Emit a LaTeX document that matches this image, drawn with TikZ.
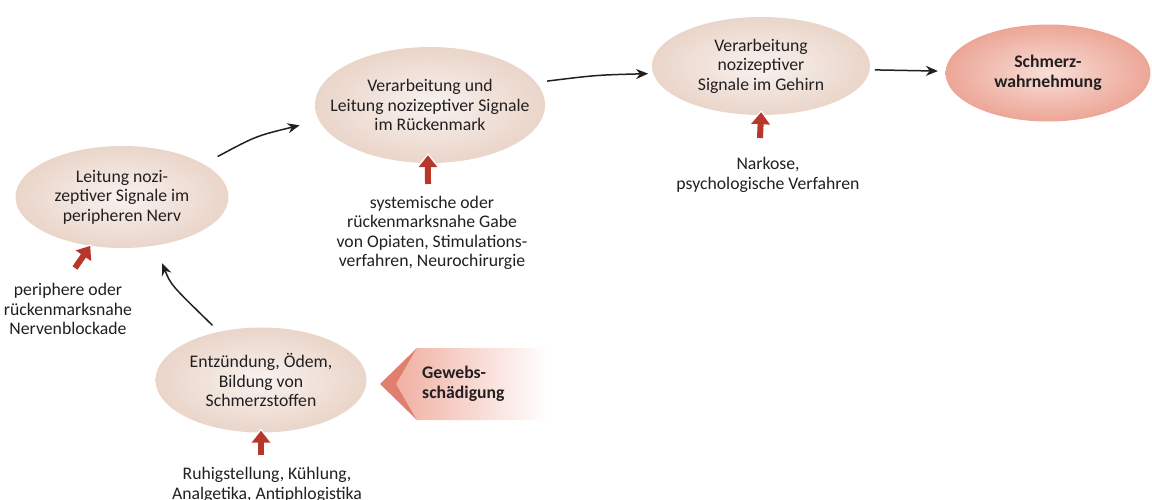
\documentclass[tikz,border=0pt]{standalone}
\usepackage{fontspec}
\setmainfont{Carlito}
\usetikzlibrary{arrows.meta,shapes.geometric}
\definecolor{beigeIn}{HTML}{F8F2EF}
\definecolor{beigeOut}{HTML}{EAD5C9}
\definecolor{pinkIn}{HTML}{F9DED7}
\definecolor{pinkOut}{HTML}{ECA696}
\definecolor{redArrow}{HTML}{B8372A}
\definecolor{chevron}{HTML}{E07E6F}
\definecolor{bodyPink}{HTML}{F0B0A2}
\definecolor{txt}{HTML}{231F20}
\begin{document}
\begin{tikzpicture}[x=1pt,y=-1pt,
  stage/.style={ellipse, inner sep=0pt, shading=radial, inner color=beigeIn, outer color=beigeOut},
  goal/.style={ellipse, inner sep=0pt, shading=radial, inner color=pinkIn, outer color=pinkOut},
  label/.style={align=center, text=txt, font=\fontsize{17.7}{19.5}\selectfont, inner sep=0pt},
  flow/.style={draw=txt, line width=1.5pt, -{Stealth[length=12pt,width=10pt]}},
  block/.style={draw=redArrow, line width=6pt, -{Triangle[length=12pt,width=18pt]}},
  halo/.style={draw=white, line width=9pt, -{Triangle[length=15pt,width=23pt]}}]
\useasboundingbox (0,0) rectangle (1152,500);
\fill[white] (0,0) rectangle (1152,500);
% stages
\node[stage, minimum width=213pt, minimum height=102pt] (e1) at (122,197) {};
\node[stage, minimum width=230pt, minimum height=116pt] (e2) at (430,105) {};
\node[stage, minimum width=218pt, minimum height=98pt] (e3) at (761,66) {};
\node[goal,  minimum width=205pt, minimum height=97pt] (e4) at (1048,73) {};
\node[stage, minimum width=211pt, minimum height=105pt] (e5) at (261,380) {};
\node[label] (t1) at (e1) {Leitung nozi-\\zeptiver Signale im\\peripheren Nerv};
\node[label] (t2) at (e2) {Verarbeitung und\\Leitung nozizeptiver Signale\\im Rückenmark};
\node[label] (t3) at (e3) {Verarbeitung\\nozizeptiver\\Signale im Gehirn};
\node[label, font=\fontsize{17.7}{19.5}\selectfont\bfseries] (t4) at (e4) {Schmerz-\\wahrnehmung};
\node[label] (t5) at (e5) {Entzündung, Ödem,\\Bildung von\\Schmerzstoffen};
% tissue damage
\fill[chevron] (380,384) -- (417,348) -- (417,420) -- cycle;
\shade[left color=bodyPink, right color=white] (396,384) -- (417,348) -- (548,348) -- (548,420) -- (417,420) -- cycle;
\node[label, align=left, anchor=west, font=\fontsize{17.7}{19.5}\selectfont\bfseries] (g) at (422,384) {Gewebs-\\schädigung};
% flow arrows
\draw[flow, shorten <=9pt, shorten >=19pt] (e5.131) .. controls (171,285) .. (e1.-56.5);
\draw[flow, shorten <=16pt, shorten >=20pt] (e1.22) .. controls (256,136) .. (e2.188.3);
\draw[flow, shorten <=11pt, shorten >=5pt] (e2.12) .. controls (597,75) .. (e3.184);
\draw[flow, shorten <=5pt, shorten >=7.5pt] (e3.-2.5) -- (e4.179);
% interventions
\coordinate (r1) at (75,268);
\coordinate (r2) at (428,184);
\coordinate (r3) at (760,138);
\coordinate (r5) at (261,455);
\draw[halo, shorten >=-2pt] (r1) -- (e1.237);
\draw[block] (r1) -- (e1.237);
\draw[halo, shorten >=-10pt] (r2) -- (e2.268);
\draw[block, shorten >=-8pt] (r2) -- (e2.268);
\draw[halo, shorten >=-5pt] (r3) -- (e3.270);
\draw[block, shorten >=-3pt] (r3) -- (e3.270);
\draw[halo, shorten >=-4pt] (r5) -- (e5.270);
\draw[block, shorten >=-2pt] (r5) -- (e5.270);
\node[label] (i1) at (68,309) {periphere oder\\rückenmarksnahe\\Nervenblockade};
\node[label] (i2) at (432,233) {systemische oder\\rückenmarksnahe Gabe\\von Opiaten, Stimulations-\\verfahren, Neurochirurgie};
\node[label] (i3) at (768,175) {Narkose,\\psychologische Verfahren};
\node[label] (i5) at (267,485) {Ruhigstellung, Kühlung,\\Analgetika, Antiphlogistika};
\end{tikzpicture}
\end{document}
